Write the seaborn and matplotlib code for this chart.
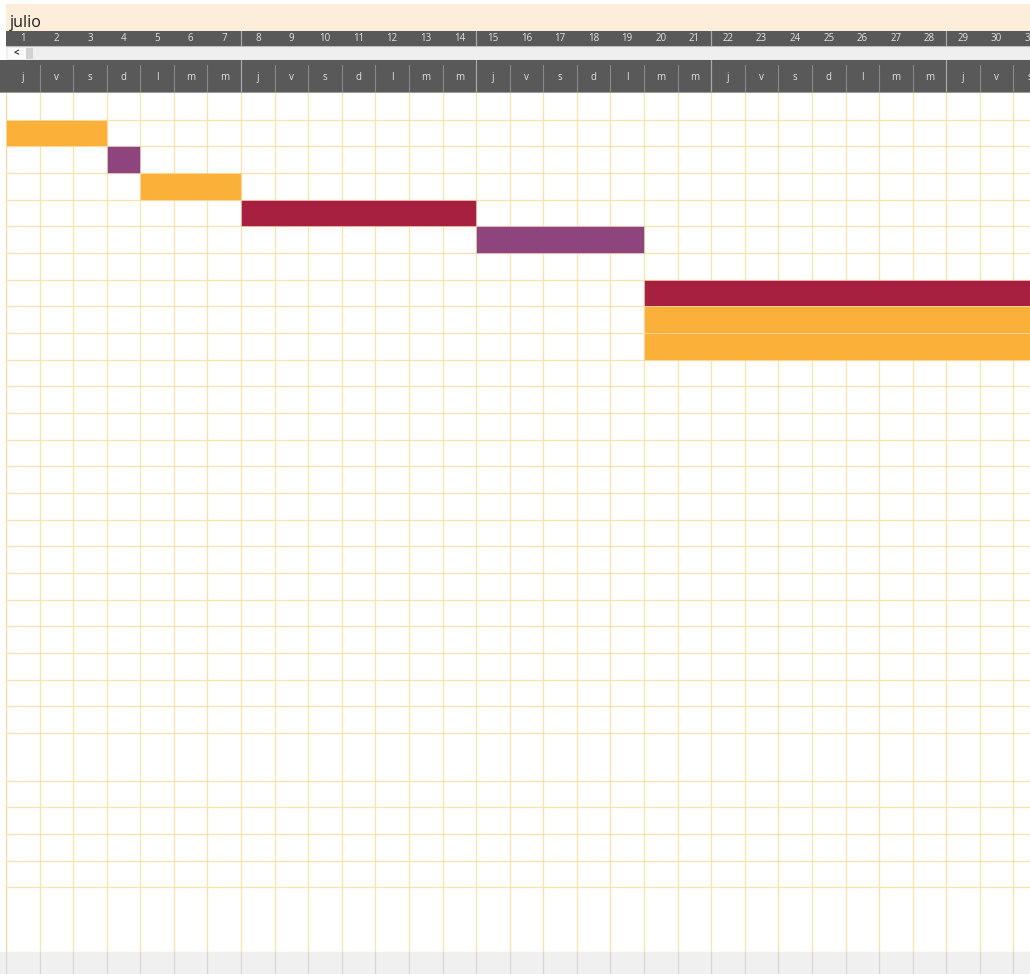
import numpy as np
import matplotlib
matplotlib.use("Agg")
import matplotlib.pyplot as plt
from matplotlib.patches import Rectangle
import seaborn as sns

# ---------------- data ----------------
month_title = "julio"
day_numbers = list(range(1, 32))
day_letters = ["j", "v", "s", "d", "l", "m", "m"] * 4 + ["j", "v", "s"]

task_rows = [1, 2, 3, 4, 5, 7, 8, 9]
task_start = [1, 4, 5, 8, 15, 20, 20, 20]
task_days = [3, 1, 3, 7, 5, 12, 12, 12]
task_kind = ["naranja", "morado", "naranja", "granate", "morado",
             "granate", "naranja", "naranja"]

# ---------------- style ----------------
sns.set_theme(style="white")
plt.rcParams["font.family"] = ["Open Sans", "DejaVu Sans"]

palette = {"naranja": "#FBB03A", "morado": "#8E457E", "granate": "#A82040"}
GRID = "#FBE3AA"
DARK = "#595959"

W, H = 1030, 974
COLW = 33.58
X0 = 6
XMAX = (W - X0) / COLW
XMIN0 = -X0 / COLW

row_heights = [1] * 24 + [1.79] + [1] * 4 + [2.43]
bounds = np.concatenate([[0], np.cumsum(row_heights)])

fig = plt.figure(figsize=(W / 100, H / 100), dpi=100)
fig.patch.set_facecolor("white")


def px_axes(x0, y0, x1, y1, fc):
    ax = fig.add_axes([x0 / W, 1 - y1 / H, (x1 - x0) / W, (y1 - y0) / H])
    ax.set_facecolor(fc)
    ax.set_xticks([])
    ax.set_yticks([])
    for s in ax.spines.values():
        s.set_visible(False)
    return ax


# title band
ax_t = px_axes(6, 4, 1030, 31, "#FDEEDB")
ax_t.set_xlim(0, XMAX)
ax_t.set_ylim(0, 1)
ax_t.text(4 / (W - X0) * XMAX, 0.13, month_title, fontsize=11.5, color="#1E1E1E",
          va="baseline", ha="left")

# day-number row
ax_n = px_axes(6, 31, 1030, 46, DARK)
ax_n.set_xlim(0, XMAX)
ax_n.set_ylim(0, 1)
for d in day_numbers:
    ax_n.text(d - 0.5, 0.48, str(d), fontsize=7, color="#E2E2E2",
              ha="center", va="center", clip_on=True)
for wk in [7, 14, 21, 28]:
    ax_n.axvline(wk, color="#A8A8A8", lw=0.9)

# scroll row
ax_s = px_axes(6, 46, 1030, 60, "#EFEFEF")
ax_s.set_xlim(0, W - X0)
ax_s.set_ylim(0, 14)
ax_s.add_patch(Rectangle((2, 1.5), 18, 11, color="#FAFAFA", lw=0))
ax_s.add_patch(Rectangle((20, 1.5), 7, 11, color="#D2D2D2", lw=0))
ax_s.text(10, 6, "<", fontsize=7, color="#333333", ha="center", va="center",
          fontweight="bold")
ax_s.axhline(13.7, color="#BDBDBD", lw=0.8)
ax_s.axhline(0.3, color="#C8C8C8", lw=0.8)

# day-letter row
ax_l = px_axes(0, 60, 1030, 93, DARK)
ax_l.set_xlim(XMIN0, XMAX)
ax_l.set_ylim(0, 1)
for d, let in zip(day_numbers, day_letters):
    ax_l.text(d - 0.5, 0.48, let, fontsize=7, color="#E2E2E2",
              ha="center", va="center", clip_on=True)
for b in range(1, 31):
    if b % 7 == 0:
        ax_l.axvline(b, color="#A8A8A8", lw=0.9)
    else:
        ax_l.axvline(b, ymin=0, ymax=0.84, color="#8A8A8A", lw=0.8)
ax_l.axhline(0.02, color="#9A9A9A", lw=0.8)

# main grid
ax = px_axes(6, 93, 1030, 952, "white")
ax.set_xlim(0, XMAX)
ax.set_ylim(bounds[-1], 0)
for b in range(0, 31):
    ax.axvline(b, color=GRID if b else "#F8D79C", lw=0.9, zorder=1)
for yb in bounds[1:]:
    ax.axhline(yb, color=GRID, lw=0.9, zorder=1)

ax.barh([r + 0.5 for r in task_rows], task_days,
        left=[s - 1 for s in task_start], height=1.0,
        color=[palette[k] for k in task_kind],
        edgecolor=(1, 0.93, 0.8, 0.55), linewidth=0.6, zorder=2)

# bottom strip
ax_b = px_axes(0, 952, 1030, 974, "#F0F0F0")
ax_b.set_xlim(XMIN0, XMAX)
ax_b.set_ylim(0, 1)
for b in range(0, 31):
    ax_b.axvline(b, color="#D6D6D6", lw=0.9)

fig.savefig("out.png", dpi=100, facecolor="white")
